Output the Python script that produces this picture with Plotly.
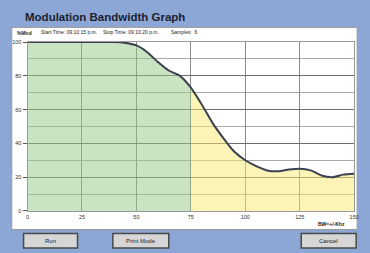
import plotly.graph_objects as go

# ---- data ----
bw = [0, 5, 10, 15, 20, 25, 30, 35, 40, 45, 50, 55, 60, 65, 70, 75,
      80, 85, 90, 95, 100, 105, 110, 115, 120, 125, 130, 135, 140, 145, 150]
mod = [100, 100, 100, 100, 100, 100, 100, 100, 100, 99.5, 98, 94, 88, 83, 80, 73,
       63, 52, 43, 35, 30, 26.5, 24, 23.5, 24.5, 25, 24, 21, 20, 21.5, 22]
x_ticks = [0, 25, 50, 75, 100, 125, 150]
y_ticks = [0, 20, 40, 60, 80, 100]
split_bw = 75

W, H = 370, 253
def px(x): return x / W
def py(y): return 1 - y / H

green_x = [b for b in bw if b <= split_bw]
green_y = mod[:len(green_x)]
yel_x = [b for b in bw if b >= split_bw]
yel_y = mod[len(bw) - len(yel_x):]

fig = go.Figure()
fig.add_trace(go.Scatter(x=green_x, y=green_y, mode="lines", fill="tozeroy",
                         fillcolor="rgba(150,202,136,0.5)", line=dict(width=0, shape="spline", smoothing=0.6),
                         hoverinfo="skip", showlegend=False))
fig.add_trace(go.Scatter(x=yel_x, y=yel_y, mode="lines", fill="tozeroy",
                         fillcolor="rgba(249,232,110,0.5)", line=dict(width=0, shape="spline", smoothing=0.6),
                         hoverinfo="skip", showlegend=False))
fig.add_trace(go.Scatter(x=bw, y=mod, mode="lines",
                         line=dict(color="#3b4152", width=2, shape="spline", smoothing=0.6),
                         showlegend=False))

blue = "#8ca7d5"
shapes = [
    dict(type="rect", xref="paper", yref="paper", x0=px(10), x1=px(362), y0=py(232), y1=py(25),
         fillcolor="white", line=dict(color="#9a9a9a", width=1), layer="below"),
]
buttons = [("Run", 22, 77), ("Print Mode", 113, 170), ("Cancel", 305, 361)]
ann = []
for label, x0, x1 in buttons:
    shapes.append(dict(type="rect", xref="paper", yref="paper", x0=px(x0), x1=px(x1),
                       y0=py(251), y1=py(236), fillcolor="#d6d6d6",
                       line=dict(color="#4a4a4a", width=1.5), layer="below"))
    ann.append(dict(text=label, x=px((x0 + x1) / 2), y=py(243.5), xref="paper", yref="paper",
                    showarrow=False, font=dict(size=6, color="#222", family="Liberation Sans"),
                    xanchor="center", yanchor="middle"))

ann += [
    dict(text="<b>Modulation Bandwidth Graph</b>", x=px(21), y=py(14), xref="paper", yref="paper",
         showarrow=False, xanchor="left", yanchor="middle",
         font=dict(size=11.5, color="#1c1f2e", family="Liberation Sans")),
    dict(text="<b>%Mod</b>", x=px(13), y=py(30.5), xref="paper", yref="paper",
         showarrow=False, xanchor="left", yanchor="middle",
         font=dict(size=5, color="#222", family="Liberation Sans")),
    dict(text="Start Time: 09:10:15 p.m.", x=px(38), y=py(30), xref="paper", yref="paper",
         showarrow=False, xanchor="left", yanchor="middle",
         font=dict(size=5, color="#222", family="Liberation Sans")),
    dict(text="Stop Time: 09:10:20 p.m.", x=px(101), y=py(30), xref="paper", yref="paper",
         showarrow=False, xanchor="left", yanchor="middle",
         font=dict(size=5, color="#222", family="Liberation Sans")),
    dict(text="Samples:  6", x=px(170), y=py(30), xref="paper", yref="paper",
         showarrow=False, xanchor="left", yanchor="middle",
         font=dict(size=5, color="#222", family="Liberation Sans")),
    dict(text="<b>BW=+/-Khz</b>", x=px(352), y=py(226), xref="paper", yref="paper",
         showarrow=False, xanchor="right", yanchor="middle",
         font=dict(size=5, color="#222", family="Liberation Sans")),
]

fig.update_layout(
    width=W, height=H, margin=dict(l=0, r=0, t=0, b=0),
    paper_bgcolor=blue, plot_bgcolor="white",
    shapes=shapes, annotations=ann,
    xaxis=dict(domain=[px(26), px(359)], range=[0, 150], tickvals=x_ticks,
               showgrid=True, gridcolor="#8a8a8a", gridwidth=1, zeroline=False,
               showline=True, linecolor="#9a9a9a", mirror=True,
               ticks="", tickfont=dict(size=5.5, color="#333", family="Liberation Sans")),
    yaxis=dict(domain=[1 - 213 / H, 1 - 40 / H], range=[0, 100], tickvals=y_ticks,
               showgrid=True, gridcolor="#6e6e6e", gridwidth=1, zeroline=False,
               showline=True, linecolor="#9a9a9a", mirror=True,
               ticks="outside", ticklen=4, tickcolor="#555",
               minor=dict(tickvals=[10, 30, 50, 70, 90], showgrid=True, gridcolor="#a8a8a8", gridwidth=1),
               tickfont=dict(size=5.5, color="#333", family="Liberation Sans")),
)

fig.write_html("out.html", config={"displayModeBar": False},
               post_script="document.body.style.margin='0';document.body.style.overflow='hidden';")
